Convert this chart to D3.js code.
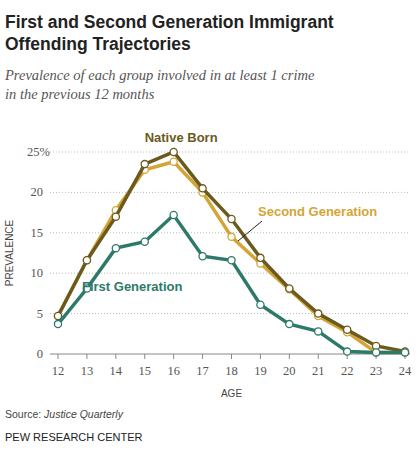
<!DOCTYPE html><html><head><meta charset="utf-8"><script src="https://cdn.jsdelivr.net/npm/d3@7"></script>
<style>body{margin:0;background:#fff;font-family:"Liberation Serif",serif}</style></head><body><svg width="420" height="475"></svg>
<script>
const ages=[12,13,14,15,16,17,18,19,20,21,22,23,24];
const native=[4.7,11.6,17,23.5,25,20.5,16.7,11.9,8.1,5,3,1,0.3];
const second=[4.7,11.6,17.8,22.8,23.8,20,14.5,11.2,8,4.7,2.7,0.2,0.2];
const first=[3.7,8.1,13.1,13.9,17.2,12.1,11.6,6.1,3.7,2.8,0.3,0.2,0.2];
const yTicks=[0,5,10,15,20,25];
const svg=d3.select("svg");
const x=d3.scaleLinear().domain([12,24]).range([58,405]);
const y=d3.scaleLinear().domain([0,25]).range([354,152]);
svg.append("text").attr("x",5).attr("y",28).attr("font-family","Franklin Gothic Medium,Liberation Sans,sans-serif").attr("font-weight","bold").attr("font-size",17.5).attr("fill","#222").text("First and Second Generation Immigrant");
svg.append("text").attr("x",5).attr("y",50).attr("font-weight","bold").attr("font-family","Liberation Sans,sans-serif").attr("font-size",17.5).attr("fill","#222").text("Offending Trajectories");
svg.append("text").attr("x",5).attr("y",80).attr("font-style","italic").attr("font-size",14.5).attr("fill","#555").text("Prevalence of each group involved in at least 1 crime");
svg.append("text").attr("x",5).attr("y",99).attr("font-style","italic").attr("font-size",14.5).attr("fill","#555").text("in the previous 12 months");
yTicks.forEach(t=>{
 if(t>0)svg.append("line").attr("x1",50).attr("x2",410).attr("y1",y(t)).attr("y2",y(t)).attr("stroke","#bbb").attr("stroke-dasharray","1,2");
 svg.append("text").attr("x",t==25?27:43).attr("y",y(t)+4).attr("text-anchor",t==25?"start":"end").attr("font-size",12.5).attr("fill","#555").attr("font-family","Liberation Serif,serif").text(t==25?"25%":t);
});
svg.append("line").attr("x1",50).attr("x2",410).attr("y1",y(0)).attr("y2",y(0)).attr("stroke","#888");
ages.forEach(a=>{
 svg.append("line").attr("x1",x(a)).attr("x2",x(a)).attr("y1",354).attr("y2",359).attr("stroke","#888");
 svg.append("text").attr("x",x(a)).attr("y",375).attr("text-anchor","middle").attr("font-size",12.5).attr("fill","#555").text(a);
});
svg.append("text").attr("x",x(18)).attr("y",397).attr("text-anchor","middle").attr("font-family","Liberation Sans,sans-serif").attr("font-size",10).attr("fill","#444").text("AGE");
svg.append("text").attr("transform","translate(13,"+y(12.5)+") rotate(-90)").attr("text-anchor","middle").attr("font-family","Liberation Sans,sans-serif").attr("font-size",10).attr("fill","#444").text("PREVALENCE");
const line=d3.line().x((d,i)=>x(ages[i])).y(d=>y(d));
[[second,"#d4a534"],[native,"#6b5a1e"],[first,"#2e7a6a"]].forEach(([s,c])=>{
 svg.append("path").datum(s).attr("d",line).attr("fill","none").attr("stroke",c).attr("stroke-width",3.5);
 svg.selectAll(null).data(s).enter().append("circle").attr("cx",(d,i)=>x(ages[i])).attr("cy",d=>y(d)).attr("r",3.6).attr("fill","#fff").attr("stroke",c).attr("stroke-width",1.3);
});
const lab=(t,xx,yy,c)=>svg.append("text").attr("x",xx).attr("y",yy).attr("font-family","Liberation Sans,sans-serif").attr("font-weight","bold").attr("font-size",13).attr("fill",c).text(t);
lab("Native Born",x(16)-29,142,"#6b5a1e");
lab("Second Generation",258,216,"#d4a534");
lab("First Generation",82,291,"#2e7a6a");
svg.append("line").attr("x1",262).attr("y1",221).attr("x2",238).attr("y2",241).attr("stroke","#222").attr("stroke-width",1);
svg.append("text").attr("x",5).attr("y",418).attr("font-family","Liberation Sans,sans-serif").attr("font-size",10.5).attr("fill","#444").text("Source: ").append("tspan").attr("font-style","italic").text("Justice Quarterly");
svg.append("text").attr("x",5).attr("y",441).attr("font-family","Liberation Sans,sans-serif").attr("font-size",11).attr("fill","#222").text("PEW RESEARCH CENTER");
</script></body></html>
